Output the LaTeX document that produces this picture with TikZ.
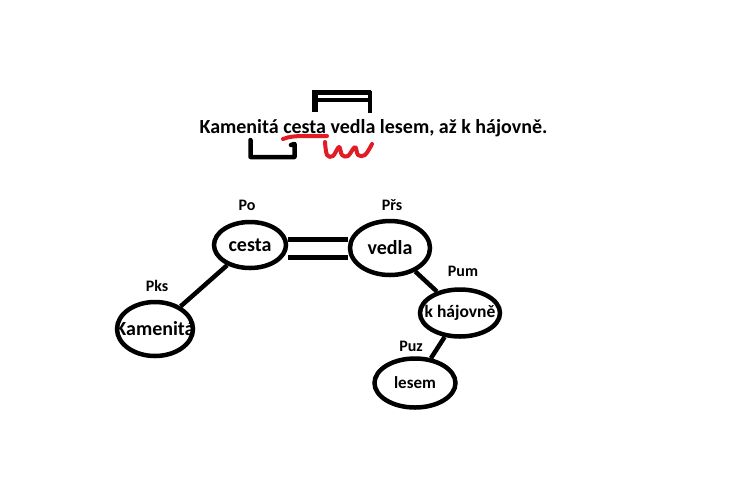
\documentclass[tikz,border=0pt]{standalone}
\usepackage{fontspec}
\setmainfont{Carlito}
\usetikzlibrary{shapes.geometric}
\definecolor{penred}{RGB}{226,28,36}
\newcommand{\zw}[1]{\makebox[0pt]{#1}}
\begin{document}
\begin{tikzpicture}[x=1pt,y=-1pt,
  word/.style={ellipse, draw, line width=4.5pt, inner sep=0pt,
    font=\bfseries\fontsize{20}{20}\selectfont},
  lab/.style={font=\bfseries\fontsize{16}{16}\selectfont, inner sep=0pt},
  link/.style={line width=4.5pt},
  penblack/.style={line width=5pt, line cap=round, line join=round},
  penr/.style={draw=penred, line width=4pt, line cap=round, line join=round}]
\useasboundingbox[fill=white] (0,0) rectangle (730,496);

% sentence
\node[anchor=base, inner sep=0pt, font=\bfseries\fontsize{20}{20}\selectfont] (sent) at (373.5,133) {Kamenitá cesta vedla lesem, až k hájovně.};

% marks on the sentence
\draw[penblack, line width=6pt, line cap=butt] (315,90) -- (315,112);
\draw[penblack, line cap=butt] (312,92.5) -- (371,92.5);
\draw[penblack, line width=3.5pt, line cap=butt] (315,100) -- (369,100);
\draw[penblack, line width=4pt, line cap=butt] (369.5,90.5) -- (369.5,113);
\draw[penblack, line width=4.5pt] (250.5,140) -- (250.5,157) -- (294.5,157) -- (294.5,144) -- (291,145);
\draw[penr] (283,139) .. controls (295,134) and (312,137) .. (327,136);
\draw[penr] plot[smooth, tension=0.6] coordinates {(325,142) (327,155) (333,156) (339,147) (342,155) (348,156) (355,147) (358,155) (365,155) (372,144)};

% nodes
\node[word, minimum width=72, minimum height=46] (cesta) at (250,245) {\zw{cesta}};
\node[word, minimum width=80, minimum height=54] (vedla) at (390,248) {\zw{vedla}};
\node[word, minimum width=76, minimum height=54] (kamenita) at (155,329) {\zw{Kamenitá}};
\node[word, minimum width=80, minimum height=47, font=\bfseries\fontsize{17.5}{17.5}\selectfont] (hajovne) at (460,313) {\zw{k hájovně}};
\node[word, minimum width=81, minimum height=49, font=\bfseries\fontsize{17}{17}\selectfont] (lesem) at (415,383) {\zw{lesem}};

% labels
\node[lab] (lpo) at (247,205) {Po};
\node[lab] (lprs) at (392,205) {Přs};
\node[lab] (lpks) at (157,286) {Pks};
\node[lab] (lpum) at (463,271) {Pum};
\node[lab] (lpuz) at (411,346) {Puz};

% connectors
\draw[link] (cesta) -- (kamenita);
\draw[link] (vedla) -- (hajovne);
\draw[link] (hajovne) -- (lesem);
\draw[link, line width=5pt] (cesta.east |- 0,239.5) -- (vedla.west |- 0,239.5);
\draw[link, line width=5pt] (cesta.east |- 0,257.5) -- (vedla.west |- 0,257.5);
\end{tikzpicture}
\end{document}
